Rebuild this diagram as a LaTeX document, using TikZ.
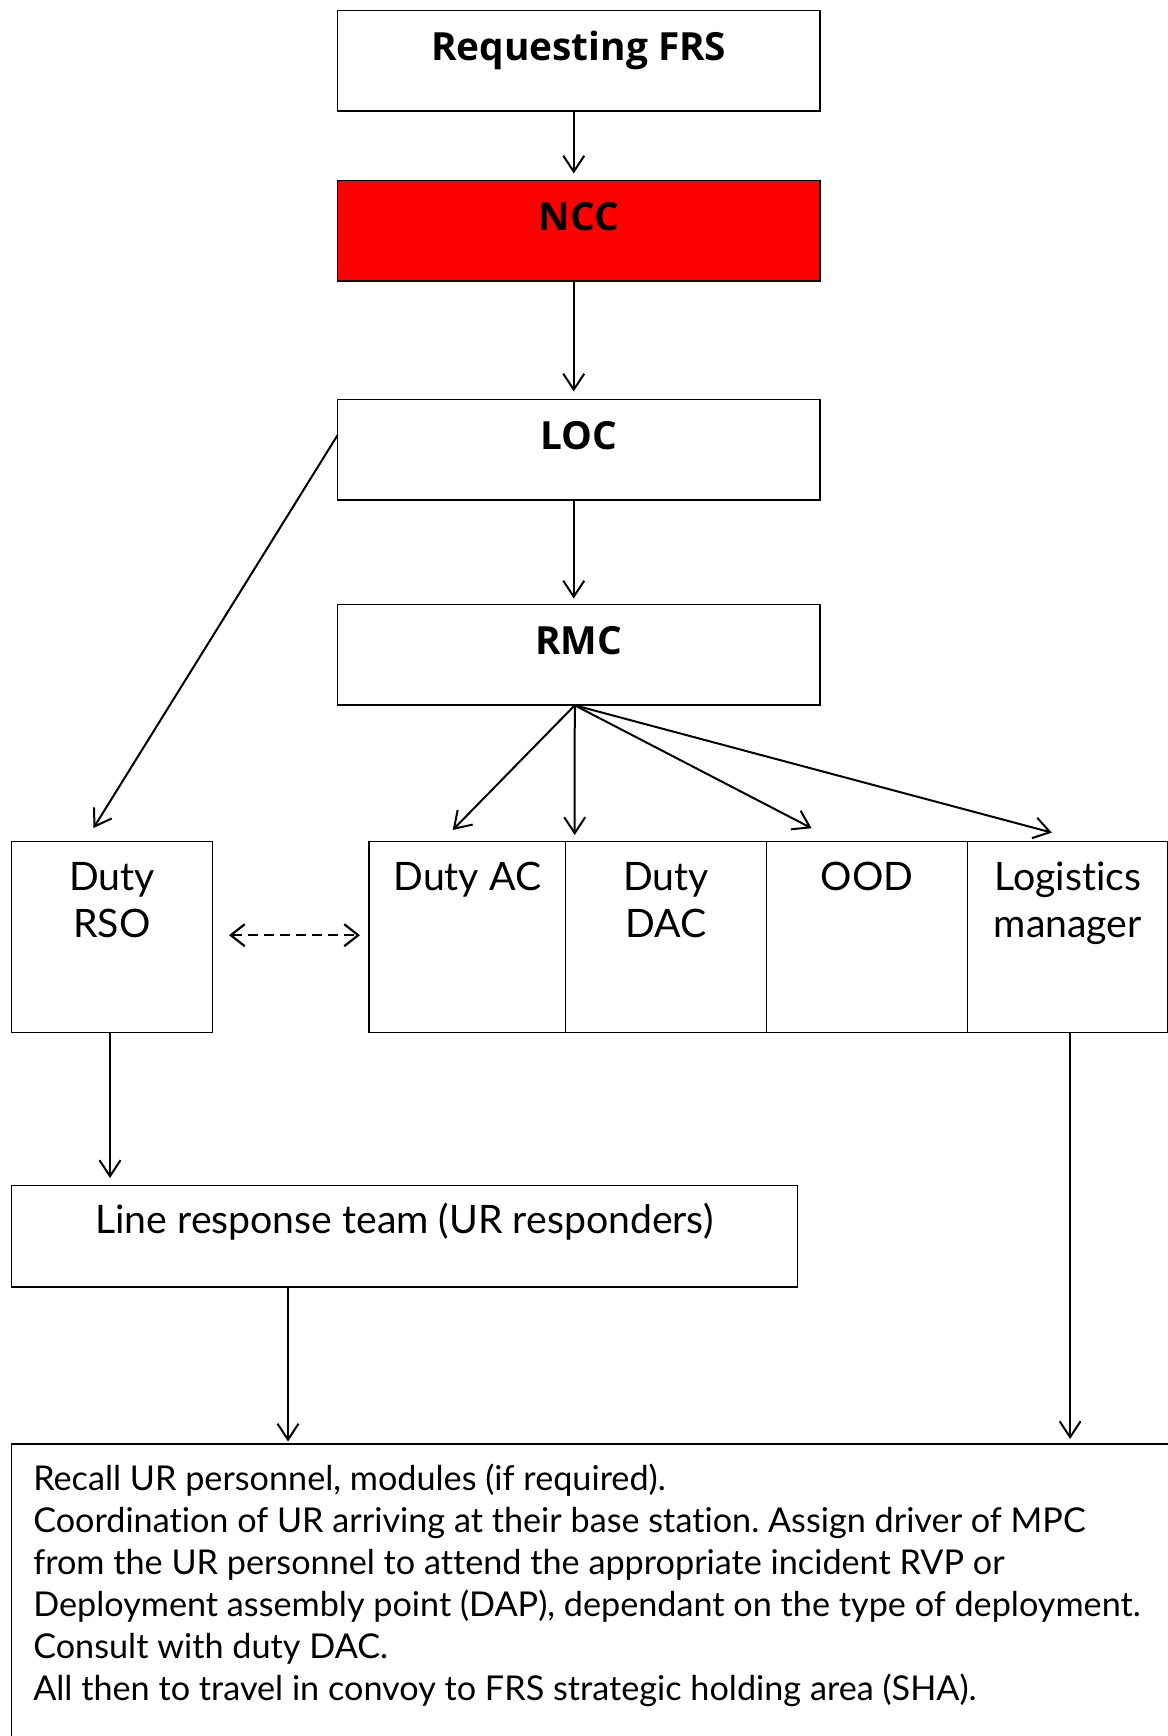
\documentclass[tikz,border=0pt]{standalone}
\usepackage{fontspec}
\setmainfont{Lato}[Ligatures=NoCommon]
\newfontfamily\titlefont{Open Sans}
\usetikzlibrary{arrows.meta,calc}
\definecolor{nccred}{HTML}{FF0000}
\frenchspacing
\begin{document}
\begin{tikzpicture}[x=1pt,y=-1pt,
  titlebox/.style={draw=black,line width=1.8pt,anchor=north west,inner sep=0pt,outer sep=0pt,
    minimum width=482.5pt,text height=50pt,text depth=50.5pt,
    font=\titlefont\bfseries\fontsize{38.8}{46}\selectfont},
  rolebox/.style={draw=black,line width=1.3pt,anchor=north west,inner sep=0pt,outer sep=0pt,
    text height=48.3pt,text depth=142.7pt,
    font=\fontsize{39.2}{47}\selectfont},
  arr/.style={line width=2pt,-{Straight Barb[length=16pt,width=21pt]}},
  dasharr/.style={line width=2.2pt,dash pattern=on 10pt off 6pt,
    {Straight Barb[length=14pt,width=22pt]}-{Straight Barb[length=14pt,width=22pt]}}
]
\useasboundingbox (0,0) rectangle (1167,1736);

% top chain
\node[titlebox] (req) at (337.5,10.5) {Requesting FRS};
\node[titlebox,fill=nccred] (ncc) at (337.5,180.5) {NCC};
\node[titlebox] (loc) at (337.5,399.5) {LOC};
\node[titlebox,text depth=50.8pt] (rmc) at (337.5,604.5) {RMC};

% role boxes
\node[rolebox,minimum width=201pt] (rso) at (11.5,841.7)
  {\begin{tabular}[t]{@{}c@{}}Duty\\RSO\end{tabular}};
\node[rolebox,minimum width=196.6pt] (ac) at (369,841.7) {Duty AC};
\node[rolebox,minimum width=200.8pt] (dac) at (565.6,841.7)
  {\begin{tabular}[t]{@{}c@{}}Duty\\DAC\end{tabular}};
\node[rolebox,minimum width=201.1pt] (ood) at (766.4,841.7) {OOD};
\node[rolebox,minimum width=200.6pt] (log) at (967.5,841.7)
  {\begin{tabular}[t]{@{}c@{}}Logistics\\manager\end{tabular}};

% line response team
\node[rolebox,minimum width=785.7pt,text height=48pt,text depth=53.5pt] (line) at (11.5,1185.5)
  {Line response team (UR responders)};

% bottom information box
\node[draw=black,line width=1.6pt,anchor=north west,inner ysep=0pt,inner xsep=21.8pt,outer sep=0pt,
  text height=46pt,text depth=330pt,font=\fontsize{34.2}{42}\selectfont] (info) at (11.5,1444)
  {\makebox[1150pt][l]{\begin{tabular}[t]{@{}l@{}}
  Recall UR personnel, modules (if required).\\
  Coordination of UR arriving at their base station. Assign driver of MPC\\
  from the UR personnel to attend the appropriate incident RVP or\\
  Deployment assembly point (DAP), dependant on the type of deployment.\\
  Consult with duty DAC.\\
  All then to travel in convoy to FRS strategic holding area (SHA).
  \end{tabular}}};

% arrow end points
\coordinate (fan) at ([xshift=-4pt]rmc.south);
\coordinate (tRSO) at (93.5,828);
\coordinate (tAC) at (452.7,830);
\coordinate (tDAC) at (574.7,835);
\coordinate (tOOD) at (811.6,828.2);
\coordinate (tLOG) at (1051.8,832.6);

% vertical chain arrows
\draw[arr,shorten >=7pt] ([xshift=-5pt]req.south) -- ([xshift=-5pt]ncc.north);
\draw[arr,shorten >=8pt] ([xshift=-5pt]ncc.south) -- ([xshift=-5pt]loc.north);
\draw[arr,shorten >=6pt] ([xshift=-5pt]loc.south) -- ([xshift=-5pt]rmc.north);

% LOC to Duty RSO
\draw[arr] ([yshift=14.5pt]loc.west) -- (tRSO);

% RMC fan
\draw[arr] (fan) -- (tAC);
\draw[arr] (fan) -- (tDAC);
\draw[arr] (fan) -- (tOOD);
\draw[arr] (fan) -- (tLOG);

% dashed link
\draw[dasharr] ([xshift=16.5pt,yshift=2pt]rso.east) -- ([xshift=-9pt,yshift=2pt]ac.west);

% lower arrows
\draw[arr,shorten >=7.5pt] ([xshift=-2pt]rso.south) -- ([xshift=-2pt]rso.south |- line.north);
\draw[arr,shorten >=2.5pt] ([xshift=276.5pt]line.south west) coordinate (l1) -- (l1 |- info.north);
\draw[arr,shorten >=5pt] ([xshift=2.3pt]log.south) coordinate (l2) -- (l2 |- info.north);
\end{tikzpicture}
\end{document}
